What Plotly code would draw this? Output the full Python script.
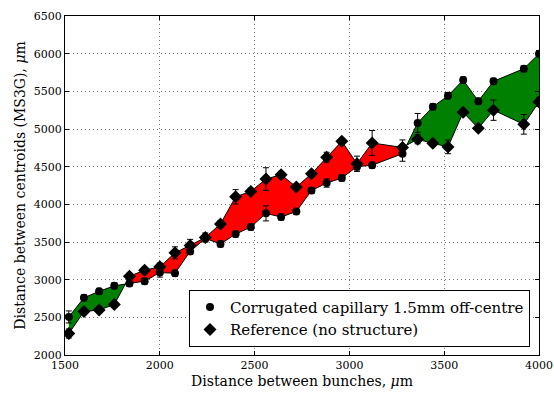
import plotly.graph_objects as go

# ---- data ----
bunch_dist = [1520, 1600, 1680, 1760, 1840, 1920, 2000, 2080, 2160, 2240, 2320, 2400,
              2480, 2560, 2640, 2720, 2800, 2880, 2960, 3040, 3120, 3280, 3360, 3440,
              3520, 3600, 3680, 3760, 3920, 4000]
corrugated = [2505, 2760, 2845, 2918, 2950, 2980, 3094, 3086, 3374, 3548, 3474, 3605,
              3698, 3880, 3831, 3906, 4183, 4283, 4349, 4500, 4520, 4672, 5081, 5294,
              5440, 5650, 5370, 5634, 5800, 6000]
corrugated_err = [80, 40, 40, 40, 40, 40, 60, 40, 40, 40, 40, 40,
                  40, 100, 40, 40, 40, 55, 40, 60, 40, 100, 125, 40,
                  40, 40, 40, 40, 40, 40]
reference = [2285, 2576, 2598, 2670, 3045, 3126, 3170, 3356, 3455, 3560, 3740, 4100,
             4172, 4336, 4394, 4230, 4405, 4626, 4837, 4540, 4815, 4755, 4864, 4810,
             4762, 5222, 5010, 5250, 5062, 5360]
reference_err = [60, 40, 40, 40, 40, 40, 50, 80, 80, 60, 40, 95,
                 40, 150, 40, 40, 40, 65, 40, 100, 165, 100, 60, 40,
                 90, 40, 40, 135, 130, 60]
names = ["Corrugated capillary 1.5mm off-centre", "Reference (no structure)"]

FONT = "DejaVu Serif, serif"


def fill_regions(x, a, b):
    regs = []
    cx, ca, cb = [x[0]], [a[0]], [b[0]]
    sign = 1 if a[0] - b[0] >= 0 else -1
    for i in range(1, len(x)):
        d0 = a[i - 1] - b[i - 1]
        d1 = a[i] - b[i]
        if d0 * d1 < 0:
            t = d0 / (d0 - d1)
            xc = x[i - 1] + t * (x[i] - x[i - 1])
            yc = a[i - 1] + t * (a[i] - a[i - 1])
            cx.append(xc); ca.append(yc); cb.append(yc)
            regs.append((sign, cx, ca, cb))
            sign = -sign
            cx, ca, cb = [xc], [yc], [yc]
        cx.append(x[i]); ca.append(a[i]); cb.append(b[i])
    regs.append((sign, cx, ca, cb))
    return regs


fig = go.Figure()

for sign, cx, ca, cb in fill_regions(bunch_dist, corrugated, reference):
    fig.add_trace(go.Scatter(
        x=cx + cx[::-1], y=ca + cb[::-1], mode="lines", fill="toself",
        fillcolor="#008000" if sign > 0 else "#ff0000",
        line=dict(width=0), hoverinfo="skip", showlegend=False))

fig.add_trace(go.Scatter(
    x=bunch_dist, y=corrugated, mode="lines+markers",
    line=dict(color="black", width=1),
    marker=dict(symbol="circle", size=8, color="black"),
    error_y=dict(type="data", array=corrugated_err, color="black", thickness=1, width=3),
    showlegend=False))
fig.add_trace(go.Scatter(
    x=bunch_dist, y=reference, mode="lines+markers",
    line=dict(color="black", width=1),
    marker=dict(symbol="diamond", size=10, color="black"),
    error_y=dict(type="data", array=reference_err, color="black", thickness=1, width=3),
    showlegend=False))

# legend entries
fig.add_trace(go.Scatter(x=[None], y=[None], mode="markers", name=names[0],
                         marker=dict(symbol="circle", size=8, color="black")))
fig.add_trace(go.Scatter(x=[None], y=[None], mode="markers", name=names[1],
                         marker=dict(symbol="diamond", size=10, color="black")))

axis_common = dict(
    showline=True, linecolor="black", linewidth=1, mirror="allticks",
    ticks="inside", ticklen=4, tickcolor="black",
    showgrid=True, gridcolor="#777777", griddash="1px,3px", gridwidth=1,
    zeroline=False, automargin=False, ticklabeloverflow="allow",
    tickfont=dict(family=FONT, size=11, color="black"),
)

fig.update_layout(
    width=554, height=397,
    margin=dict(l=65, r=15, t=16, b=42),
    paper_bgcolor="white", plot_bgcolor="white",
    font=dict(family=FONT, color="black"),
    xaxis=dict(range=[1500, 4000], tickvals=[1500, 2000, 2500, 3000, 3500, 4000],
               title=dict(text="Distance between bunches, <i>μ</i>m",
                          font=dict(family=FONT, size=14), standoff=4),
               **axis_common),
    yaxis=dict(range=[2000, 6500], dtick=500,
               title=dict(text="Distance between centroids (MS3G), <i>μ</i>m",
                          font=dict(family=FONT, size=14), standoff=4),
               **axis_common),
    legend=dict(x=0.981, y=0.024, xanchor="right", yanchor="bottom",
                bgcolor="white", bordercolor="black", borderwidth=1,
                font=dict(family=FONT, size=15, color="black"), tracegroupgap=0,
                itemwidth=30),
    showlegend=True,
)

fig.write_html("out.html")
